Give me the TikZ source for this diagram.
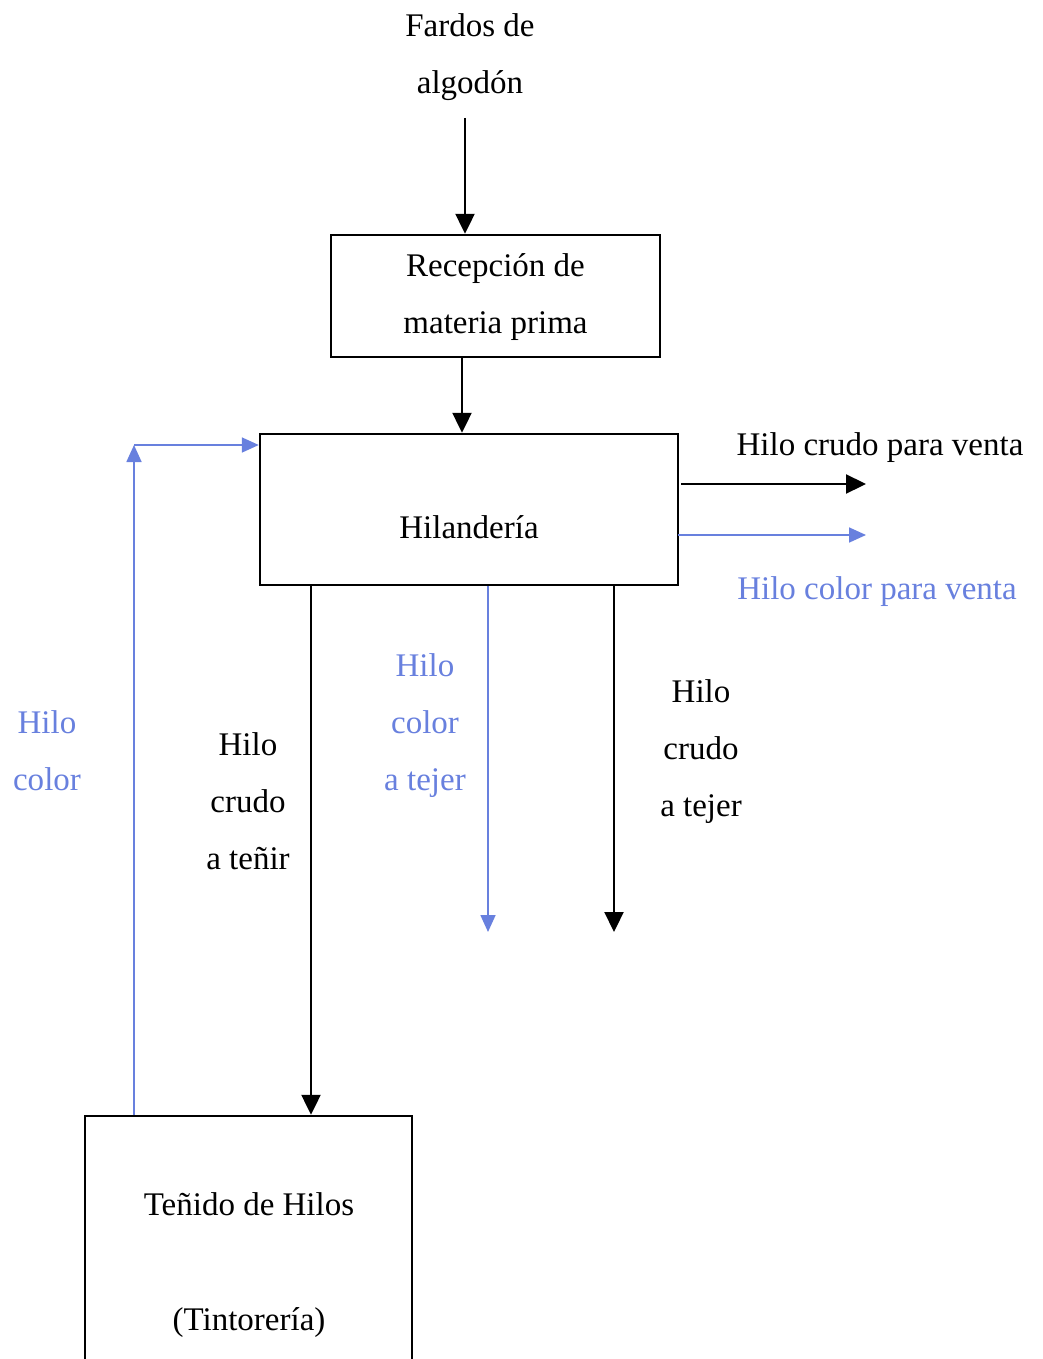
\documentclass[tikz,border=0pt]{standalone}
\usepackage{fontspec}
\setmainfont{Liberation Serif}
\usetikzlibrary{arrows.meta,calc}
\definecolor{flowblue}{RGB}{104,128,222}
\begin{document}
\begin{tikzpicture}[x=1pt,y=-1pt,
  txt/.style={font=\fontsize{33}{57}\selectfont, align=center, inner sep=0pt},
  btxt/.style={txt, text=flowblue},
  box/.style={draw=black, line width=2.4pt, inner sep=0pt},
  karrow/.style={draw=black, line width=2.2pt, -{Triangle[length=20pt,width=19pt]}},
  barrow/.style={draw=flowblue, line width=1.7pt, -{Triangle[length=17pt,width=15pt]}}
]
\useasboundingbox (0,0) rectangle (1043,1359);
\clip (0,0) rectangle (1043,1359);

% raw material input
\node[txt] (fardos) at (470,57) {Fardos de\\algodón};

% process boxes
\node[box, minimum width=329pt, minimum height=122pt] (recep) at (495.5,296) {};
\node[txt] (receptxt) at (495.5,297.5) {Recepción de\\materia prima};

\node[box, minimum width=418pt, minimum height=151pt] (hil) at (469,509.5) {};
\node[txt] (hiltxt) at (469,527) {Hilandería};

\node[box, minimum width=327pt, minimum height=300pt] (tint) at (248.5,1266) {};
\node[txt] (tinttxt) at (249,1265) {Teñido de Hilos\\[58pt](Tintorería)};

% main flow
\coordinate (fardosend) at (465,118);
\draw[karrow] (fardosend) -- (fardosend |- recep.north);
\draw[karrow] (recep.south -| 462,0) -- (hil.north -| 462,0);

% yarn for sale
\coordinate (crudoA) at (681,484);
\coordinate (crudoB) at (866,484);
\draw[karrow] (crudoA) -- (crudoB);
\node[txt] (crudoventa) at (880,448) {Hilo crudo para venta};

\coordinate (colorA) at (678,535);
\coordinate (colorB) at (866,535);
\draw[barrow] (colorA) -- (colorB);
\node[btxt] (colorventa) at (877,592) {Hilo color para venta};

% raw yarn to dyeing
\draw[karrow] (hil.south -| 311,0) -- (tint.north -| 311,0);
\node[txt] (crudotenir) at (248,801) {Hilo\\crudo\\a teñir};

% dyed yarn back to spinning
\coordinate (fb) at (134,445);
\draw[barrow] (tint.north -| fb) -- (fb);
\draw[barrow] (fb) -- (hil.west |- fb);
\node[btxt] (hilocolor) at (47,751) {Hilo\\color};

% yarn to weaving
\coordinate (colortejer) at (488,932);
\draw[barrow] (hil.south -| colortejer) -- (colortejer);
\node[btxt] (colortejertxt) at (425,726) {Hilo\\color\\a tejer};

\coordinate (crudotejer) at (614,932);
\draw[karrow] (hil.south -| crudotejer) -- (crudotejer);
\node[txt] (crudotejertxt) at (701,752) {Hilo\\crudo\\a tejer};
\end{tikzpicture}
\end{document}
